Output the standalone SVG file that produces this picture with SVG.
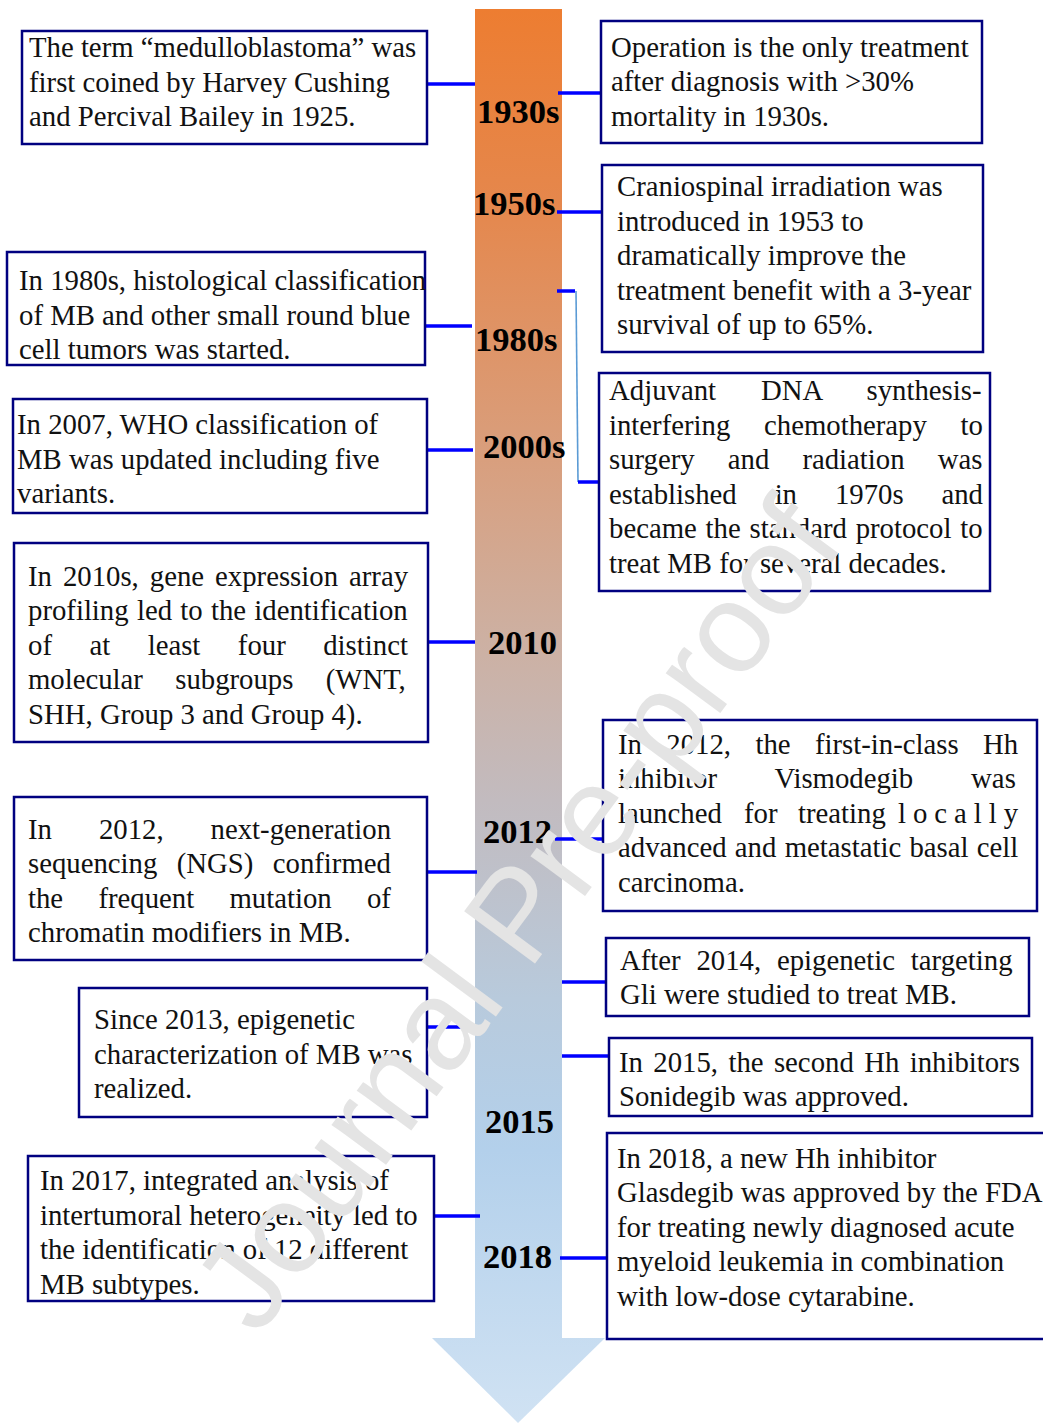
<svg xmlns="http://www.w3.org/2000/svg" width="1043" height="1423" viewBox="0 0 1043 1423">
<defs>
<linearGradient id="tl" gradientUnits="userSpaceOnUse" x1="0" y1="9" x2="0" y2="1423">
<stop offset="0" stop-color="#ED7D31"/>
<stop offset="0.135" stop-color="#E5874C"/>
<stop offset="0.312" stop-color="#D99E7C"/>
<stop offset="0.446" stop-color="#CDB0A2"/>
<stop offset="0.56" stop-color="#C2BBBF"/>
<stop offset="0.70" stop-color="#B8CADC"/>
<stop offset="0.807" stop-color="#B3D0EB"/>
<stop offset="1" stop-color="#D0E2F3"/>
</linearGradient>
<style>
.box{fill:#FFFFFF;stroke:#000080;stroke-width:2.5}
.t{font-family:"Liberation Serif","Times New Roman",serif;font-size:28.75px;fill:#111111}
.yr{font-family:"Liberation Serif","Times New Roman",serif;font-size:34.5px;font-weight:bold;fill:#000000}
.c{stroke:#0000FF;stroke-width:3.5;fill:none}
.thin{stroke:#5B9BD5;stroke-width:1.6;fill:none}
.wm{font-family:"Liberation Sans",Arial,sans-serif;font-size:128px;fill:#E4E4E4}
</style>
</defs>

<g id="timeline">
<rect x="475" y="9" width="87" height="1330" fill="url(#tl)"/>
<polygon points="432,1338 605,1338 518,1423" fill="url(#tl)"/>
</g>

<g id="connectors">
<line class="c" x1="427" y1="84" x2="475" y2="84"/>
<line class="c" x1="558" y1="93" x2="601" y2="93"/>
<line class="c" x1="557" y1="212" x2="602" y2="212"/>
<line class="c" x1="425" y1="326" x2="472" y2="326"/>
<line class="c" x1="557" y1="291" x2="575" y2="291"/>
<path class="thin" d="M576,291 L578,482"/>
<line class="c" x1="578" y1="482" x2="599" y2="482"/>
<line class="c" x1="427" y1="450" x2="473" y2="450"/>
<line class="c" x1="428" y1="642" x2="475" y2="642"/>
<line class="c" x1="555" y1="839" x2="603" y2="839"/>
<line class="c" x1="427" y1="872" x2="477" y2="872"/>
<line class="c" x1="562" y1="982" x2="606" y2="982"/>
<line class="c" x1="427" y1="1027" x2="461" y2="1027"/>
<line class="c" x1="562" y1="1056" x2="609" y2="1056"/>
<line class="c" x1="434" y1="1216" x2="480" y2="1216"/>
<line class="c" x1="560" y1="1258" x2="607" y2="1258"/>
</g>

<g id="node-1925">
<rect class="box" x="22" y="31" width="405" height="113"/>
<text class="t" x="29" y="57">The term “medulloblastoma” was</text>
<text class="t" x="29" y="91.5">first coined by Harvey Cushing</text>
<text class="t" x="29" y="126">and Percival Bailey in 1925.</text>
</g>

<g id="node-1930s">
<rect class="box" x="601" y="21" width="381" height="122"/>
<text class="t" x="611" y="56.5">Operation is the only treatment</text>
<text class="t" x="611" y="91">after diagnosis with &gt;30%</text>
<text class="t" x="611" y="125.5">mortality in 1930s.</text>
</g>

<g id="node-1953">
<rect class="box" x="602" y="165" width="381" height="187"/>
<text class="t" x="617" y="196">Craniospinal irradiation was</text>
<text class="t" x="617" y="230.5">introduced in 1953 to</text>
<text class="t" x="617" y="265">dramatically improve the</text>
<text class="t" x="617" y="299.5">treatment benefit with a 3-year</text>
<text class="t" x="617" y="334">survival of up to 65%.</text>
</g>

<g id="node-1980s">
<rect class="box" x="7" y="252" width="418" height="113"/>
<text class="t" x="19" y="290">In 1980s, histological classification</text>
<text class="t" x="19" y="324.5">of MB and other small round blue</text>
<text class="t" x="19" y="359">cell tumors was started.</text>
</g>

<g id="node-2007">
<rect class="box" x="13" y="399" width="414" height="114"/>
<text class="t" x="17" y="434">In 2007, WHO classification of</text>
<text class="t" x="17" y="468.5">MB was updated including five</text>
<text class="t" x="17" y="503">variants.</text>
</g>

<g id="node-1970s">
<rect class="box" x="599" y="373" width="391" height="218"/>
<text class="t" x="609" y="400" style="word-spacing:37.7px">Adjuvant DNA synthesis-</text>
<text class="t" x="609" y="434.5" style="word-spacing:26.5px">interfering chemotherapy to</text>
<text class="t" x="609" y="469" style="word-spacing:25.9px">surgery and radiation was</text>
<text class="t" x="609" y="503.5" style="word-spacing:30.7px">established in 1970s and</text>
<text class="t" x="609" y="538" style="word-spacing:1.6px">became the standard protocol to</text>
<text class="t" x="609" y="572.5">treat MB for several decades.</text>
</g>

<g id="node-2010s">
<rect class="box" x="14" y="543" width="414" height="199"/>
<text class="t" x="28" y="585.5" style="word-spacing:3.8px">In 2010s, gene expression array</text>
<text class="t" x="28" y="620" style="word-spacing:1.1px">profiling led to the identification</text>
<text class="t" x="28" y="654.5" style="word-spacing:30.3px">of at least four distinct</text>
<text class="t" x="28" y="689" style="word-spacing:25.1px">molecular subgroups (WNT,</text>
<text class="t" x="28" y="723.5">SHH, Group 3 and Group 4).</text>
</g>

<g id="node-2012-hh">
<rect class="box" x="603" y="720" width="434" height="191"/>
<text class="t" x="618" y="753.5" style="word-spacing:17.2px">In 2012, the first-in-class Hh</text>
<text class="t" x="618" y="788" style="word-spacing:50.7px">inhibitor Vismodegib was</text>
<text class="t" x="618" y="822.5">launched</text>
<text class="t" x="744" y="822.5">for</text>
<text class="t" x="798" y="822.5">treating</text>
<text class="t" x="898" y="822.5" textLength="120" lengthAdjust="spacing">locally</text>
<text class="t" x="618" y="857" style="word-spacing:1.1px">advanced and metastatic basal cell</text>
<text class="t" x="618" y="891.5">carcinoma.</text>
</g>

<g id="node-2012-ngs">
<rect class="box" x="14" y="797" width="413" height="163"/>
<text class="t" x="28" y="838.5" style="word-spacing:39.8px">In 2012, next-generation</text>
<text class="t" x="28" y="873" style="word-spacing:12.2px">sequencing (NGS) confirmed</text>
<text class="t" x="28" y="907.5" style="word-spacing:28.1px">the frequent mutation of</text>
<text class="t" x="28" y="942">chromatin modifiers in MB.</text>
</g>

<g id="node-2014">
<rect class="box" x="606" y="938" width="423" height="78"/>
<text class="t" x="620" y="969.5" style="word-spacing:8.6px">After 2014, epigenetic targeting</text>
<text class="t" x="620" y="1004">Gli were studied to treat MB.</text>
</g>

<g id="node-2013">
<rect class="box" x="79" y="988" width="348" height="129"/>
<text class="t" x="94" y="1029">Since 2013, epigenetic</text>
<text class="t" x="94" y="1063.5">characterization of MB was</text>
<text class="t" x="94" y="1098">realized.</text>
</g>

<g id="node-2015">
<rect class="box" x="609" y="1038" width="423" height="78"/>
<text class="t" x="619" y="1071.5" style="word-spacing:3.2px">In 2015, the second Hh inhibitors</text>
<text class="t" x="619" y="1106">Sonidegib was approved.</text>
</g>

<g id="node-2017">
<rect class="box" x="28" y="1156" width="406" height="145"/>
<text class="t" x="40" y="1190">In 2017, integrated analysis of</text>
<text class="t" x="40" y="1224.5">intertumoral heterogeneity led to</text>
<text class="t" x="40" y="1259">the identification of 12 different</text>
<text class="t" x="40" y="1293.5">MB subtypes.</text>
</g>

<g id="node-2018">
<rect class="box" x="607" y="1133" width="460" height="206"/>
<text class="t" x="617" y="1167.5">In 2018, a new Hh inhibitor</text>
<text class="t" x="617" y="1202">Glasdegib was approved by the FDA</text>
<text class="t" x="617" y="1236.5">for treating newly diagnosed acute</text>
<text class="t" x="617" y="1271">myeloid leukemia in combination</text>
<text class="t" x="617" y="1305.5">with low-dose cytarabine.</text>
</g>

<g id="years">
<text class="yr" x="477" y="123">1930s</text>
<text class="yr" x="473" y="215">1950s</text>
<text class="yr" x="475" y="351">1980s</text>
<text class="yr" x="483" y="458">2000s</text>
<text class="yr" x="488" y="654">2010</text>
<text class="yr" x="483" y="843">2012</text>
<text class="yr" x="485" y="1133">2015</text>
<text class="yr" x="483" y="1268">2018</text>
</g>

<g id="watermark">
<text class="wm" transform="translate(258,1338) rotate(-53.5)">Journal Pre-proof</text>
</g>
</svg>
